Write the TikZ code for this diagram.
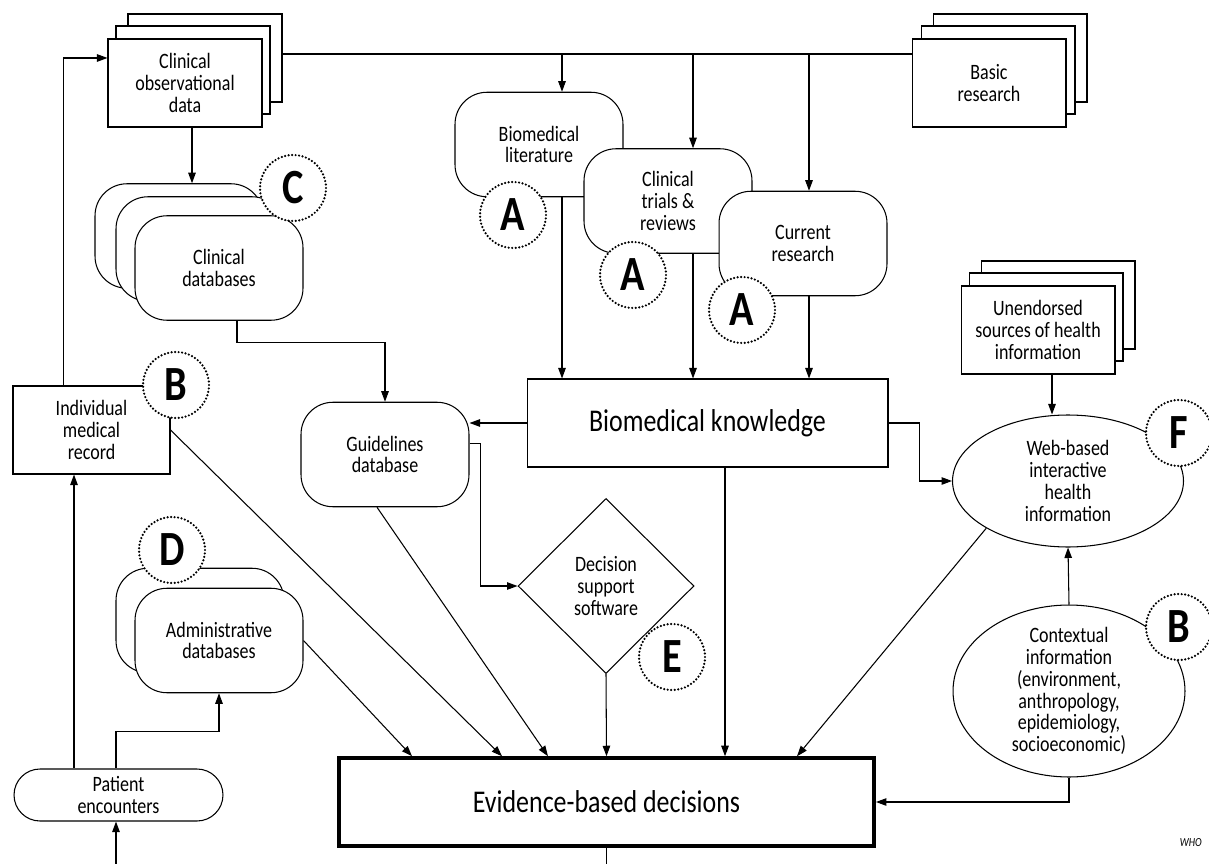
\documentclass[tikz,border=0pt]{standalone}
\usepackage{fontspec}
\setmainfont{Carlito}[FakeStretch=0.82]
\usetikzlibrary{calc,shapes.geometric,arrows.meta}

\begin{document}
\begin{tikzpicture}[x=0.02cm, y=-0.02cm, line width=0.6pt, font=\fontsize{12.5}{12.4}\selectfont]
\useasboundingbox (0,0) rectangle (1209,864);
%node styles
\tikzstyle{sheet}=[rectangle, draw, fill=white, align=center, minimum width=3.08cm, minimum height=1.76cm, inner sep=1pt]
\tikzstyle{dbase}=[rectangle, draw, fill=white, rounded corners=0.64cm, align=center, minimum width=3.36cm, minimum height=2.09cm]
\tikzstyle{bubble}=[ellipse, draw, fill=white, align=center, inner sep=-3pt]
\tikzstyle{badge}=[circle, draw, fill=white, line width=1.4pt, dash pattern=on 0pt off 2pt, line cap=round, minimum size=1.32cm, inner sep=0pt, font=\bfseries\fontsize{28}{28}\selectfont]
\tikzstyle{vector}=[-{Triangle[length=2.1mm,width=1.5mm]}]

%stacked sources
\node[sheet] (obsC) at (205,58) {};
\node[sheet] (obsB) at (193,70) {};
\node[sheet] (obs) at (185,83) {Clinical\\observational\\data};
\node[sheet] (basicC) at (1010,58) {};
\node[sheet] (basicB) at (998,70) {};
\node[sheet] (basic) at (989,83) {Basic\\research};
\node[sheet] (unendC) at (1058,305) {};
\node[sheet] (unendB) at (1046,317) {};
\node[sheet] (unend) at (1038,330) {Unendorsed\\sources of health\\information};
\node[sheet, minimum width=3.14cm] (indiv) at (91.5,430) {Individual\\medical\\record};

%knowledge sources
\node[dbase] (lit) at (539,144.5) {Biomedical\\literature};
\node[dbase] (trials) at (668,201) {Clinical\\trials \&\\reviews};
\node[dbase] (current) at (803,243.5) {Current\\research};

%databases
\node[dbase] (cdbC) at (179,236) {};
\node[dbase] (cdbB) at (200,249) {};
\node[dbase] (cdb) at (219,268) {Clinical\\databases};
\node[dbase] (admB) at (200,620.5) {};
\node[dbase] (adm) at (219,640.5) {Administrative\\databases};
\node[dbase] (guide) at (385,454.5) {Guidelines\\database};

%central boxes
\node[sheet, minimum width=7.22cm, font=\fontsize{18}{19}\selectfont] (know) at (707.5,423) {Biomedical knowledge};
\node[diamond, draw, fill=white, align=center, minimum width=3.52cm, minimum height=3.5cm, inner sep=0pt] (dss) at (606,586) {Decision\\support\\software};
\node[bubble, minimum width=4.62cm, minimum height=2.64cm] (web) at (1068,481) {Web-based\\interactive\\health\\information};
\node[bubble, minimum width=4.64cm, minimum height=3.44cm] (ctx) at (1069,691) {Contextual\\information\\(environment,\\anthropology,\\epidemiology,\\socioeconomic)};
\node[rectangle, draw, rounded corners=0.52cm, align=center, minimum width=4.18cm, minimum height=1.04cm, inner sep=0pt] (pat) at (118.5,795) {Patient\\encounters};
\node[rectangle, draw, line width=2.3pt, minimum width=10.7cm, minimum height=1.75cm, font=\fontsize{18}{19}\selectfont] (evid) at (606.5,802) {Evidence-based decisions};
\node[anchor=east, font=\itshape\fontsize{7}{8}\selectfont] (who) at (1208,843) {WHO};

%top bus
\coordinate (busY) at (0,54);
\coordinate (busA) at (562,54);
\coordinate (busB) at (693,54);
\coordinate (busC) at (809,54);
\draw (obsC.east |- busY) -- (basic.west |- busY);
\draw[vector] (busA) -- (busA |- lit.north);
\draw[vector] (busB) -- (busB |- trials.north);
\draw[vector] (busC) -- (busC |- current.north);
\draw[vector] (busA |- lit.south) -- (busA |- know.north);
\draw[vector] (busB |- trials.south) -- (busB |- know.north);
\draw[vector] (busC |- current.south) -- (busC |- know.north);

%left side
\coordinate (obsOut) at ($(obs.south)+(7,0)$);
\draw[vector] (obsOut) -- (obsOut |- cdbC.north);
\coordinate (cdbOut) at ($(cdb.south)+(18,0)$);
\draw[vector] (cdbOut) -- ++(0,22) -| (guide.north);
\coordinate (recUp) at ($(indiv.north)+(-28,0)$);
\draw[vector] (recUp) |- ($(obs.west)+(0,-25)$);
\coordinate (patL) at ($(pat.north)+(-44.5,0)$);
\draw[vector] (patL) -- (patL |- indiv.south);
\draw[vector] ($(pat.north)+(-2.5,0)$) -- ++(0,-37) -| (adm.south);
\draw[vector] ($(pat.south)+(-2.5,60)$) -- ($(pat.south)+(-2.5,0)$);

%middle
\draw[vector] (know.west) -- (know.west -| guide.east);
\draw[vector] ($(guide.east)+(0,-11)$) -- ++(11,0) |- (dss.west);
\coordinate (knowOut) at ($(know.south)+(17.5,0)$);

%right side
\draw[vector] (know.east) -- ++(31,0) |- (web.west);
\coordinate (unOut) at ($(unend.south)+(14,0)$);
\draw[vector] (unOut) -- (unOut |- web.north);
\draw[vector] (ctx.north) -- (web.south);

%into decisions
\draw[vector] (adm.east) -- ($(evid.north)+(-194.5,0)$);
\draw[vector] (indiv.east) -- ($(evid.north)+(-104.5,0)$);
\draw[vector] ($(guide.south)+(-8,0)$) -- ($(evid.north)+(-58.5,0)$);
\draw[vector] (dss.south) -- (evid.north);
\draw[vector] (knowOut) -- (knowOut |- evid.north);
\draw[vector] (web.210) -- ($(evid.north)+(190.5,0)$);
\draw[vector] (ctx.south) |- (evid.east);
\draw (evid.south) -- ++(0,40);

%letters
\node[badge] (tagLit) at (513,215) {A};
\node[badge] (tagTrials) at (633,275) {A};
\node[badge] (tagCurrent) at (742,310) {A};
\node[badge] (tagClin) at (293,188) {C};
\node[badge] (tagRec) at (176,385) {B};
\node[badge] (tagAdm) at (172,550) {D};
\node[badge] (tagDss) at (672,657) {E};
\node[badge] (tagWeb) at (1179,433) {F};
\node[badge] (tagCtx) at (1179,627) {B};
\end{tikzpicture}
\end{document}
